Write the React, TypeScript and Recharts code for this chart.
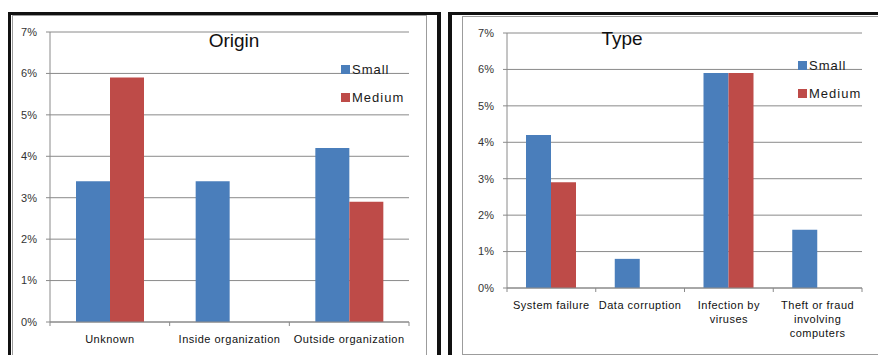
import { BarChart, Bar, XAxis, YAxis, CartesianGrid, Legend } from "recharts";

// origin of incidents
const originCategories = ["Unknown", "Inside organization", "Outside organization"];
const originSmall = [3.4, 3.4, 4.2];
const originMedium = [5.9, null, 2.9];

// type of incidents (\n marks where the tick label wraps)
const typeCategories = [
  "System failure",
  "Data corruption",
  "Infection by\nviruses",
  "Theft or fraud\ninvolving\ncomputers",
];
const typeSmall = [4.2, 0.8, 5.9, 1.6];
const typeMedium = [2.9, null, 5.9, null];

const seriesNames = ["Small", "Medium"];
const percentTicks = [0, 1, 2, 3, 4, 5, 6, 7];

const BLUE = "#4a7ebb";
const RED = "#be4b48";
const AXIS = "#8a8a8a";
const FONT = '"Liberation Sans", Arial, sans-serif';

type Box = { left: number; top: number; width: number; height: number };

type PanelProps = {
  title: string;
  categories: string[];
  small: (number | null)[];
  medium: (number | null)[];
  box: Box;
  marginTop: number;
  marginRight: number;
  yWidth: number;
  xHeight: number;
  categoryGap: number;
  legendAt: { x: number; y: number };
  titleAt: { x: number; y: number };
};

function LegendBox({ payload }: any) {
  // keep series order instead of the alphabetical default
  const items = [...(payload || [])].sort(
    (a: any, b: any) => seriesNames.indexOf(a.value) - seriesNames.indexOf(b.value)
  );
  return (
    <div style={{ fontFamily: FONT }}>
      {items.map((entry: any) => (
        <div
          key={entry.value}
          style={{ display: "flex", alignItems: "center", height: 28 }}
        >
          <span
            style={{
              display: "inline-block",
              width: 9,
              height: 9,
              background: entry.color,
            }}
          />
          <span
            style={{
              marginLeft: 2,
              fontSize: 13,
              letterSpacing: 1,
              color: "#1a1a1a",
            }}
          >
            {entry.value}
          </span>
        </div>
      ))}
    </div>
  );
}

function Panel(p: PanelProps) {
  const data = p.categories.map((name, i) => ({
    name,
    small: p.small[i],
    medium: p.medium[i],
  }));
  const plotWidth = p.box.width - p.yWidth - p.marginRight;
  const band = plotWidth / p.categories.length;

  // Excel-style category ticks sit between categories, not under them
  const renderTick = (props: any) => {
    const { x, y, payload, index } = props;
    const lines = String(payload.value).split("\n");
    const last = index === p.categories.length - 1;
    return (
      <g>
        <line x1={x - band / 2} y1={y} x2={x - band / 2} y2={y + 4} stroke={AXIS} />
        {last && (
          <line x1={x + band / 2} y1={y} x2={x + band / 2} y2={y + 4} stroke={AXIS} />
        )}
        <text
          x={x}
          y={y + 21}
          textAnchor="middle"
          fontSize={11}
          letterSpacing={0.5}
          fontFamily={FONT}
          fill="#111"
        >
          {lines.map((line, i) => (
            <tspan key={i} x={x} dy={i === 0 ? 0 : 14}>
              {line}
            </tspan>
          ))}
        </text>
      </g>
    );
  };

  return (
    <div
      style={{
        position: "absolute",
        left: p.box.left,
        top: p.box.top,
        width: p.box.width,
        height: p.box.height,
      }}
    >
      <BarChart
        width={p.box.width}
        height={p.box.height}
        data={data}
        margin={{ top: p.marginTop, right: p.marginRight, left: 0, bottom: 0 }}
        barCategoryGap={p.categoryGap}
        barGap={0}
      >
        <CartesianGrid vertical={false} stroke={AXIS} strokeWidth={1} />
        <XAxis
          dataKey="name"
          interval={0}
          height={p.xHeight}
          tickSize={0}
          tickMargin={0}
          stroke={AXIS}
          tick={renderTick}
        />
        <YAxis
          width={p.yWidth}
          domain={[0, 7]}
          ticks={percentTicks}
          tickFormatter={(v: number) => `${v}%`}
          tickSize={4}
          tickMargin={9}
          stroke={AXIS}
          tick={{ fontSize: 11, fill: "#333", fontFamily: FONT }}
        />
        <Legend
          layout="vertical"
          align="center"
          verticalAlign="middle"
          content={LegendBox}
          wrapperStyle={{ left: p.legendAt.x, top: p.legendAt.y, width: 90 }}
        />
        <Bar dataKey="small" name="Small" fill={BLUE} isAnimationActive={false} />
        <Bar dataKey="medium" name="Medium" fill={RED} isAnimationActive={false} />
      </BarChart>
      <div
        style={{
          position: "absolute",
          left: p.titleAt.x - 60,
          top: p.titleAt.y,
          width: 120,
          textAlign: "center",
          fontFamily: FONT,
          fontSize: 19,
          lineHeight: "20px",
          color: "#111",
        }}
      >
        {p.title}
      </div>
    </div>
  );
}

export default function App() {
  return (
    <div
      style={{
        position: "relative",
        width: 886,
        height: 363,
        margin: -8,
        background: "#fff",
        overflow: "hidden",
      }}
    >
      {/* outer frames */}
      <div
        style={{
          position: "absolute",
          left: 7,
          top: 12,
          width: 434,
          height: 400,
          boxSizing: "border-box",
          borderTop: "3px solid #111",
          borderLeft: "4px solid #111",
          borderRight: "4px solid #111",
        }}
      />
      <div
        style={{
          position: "absolute",
          left: 448,
          top: 12,
          width: 500,
          height: 400,
          boxSizing: "border-box",
          borderTop: "3px solid #111",
          borderLeft: "4px solid #111",
        }}
      />
      {/* chart area borders */}
      <div
        style={{
          position: "absolute",
          left: 12,
          top: 15,
          width: 415,
          height: 341,
          boxSizing: "border-box",
          border: "1px solid #9c9c9c",
        }}
      />
      <div
        style={{
          position: "absolute",
          left: 462,
          top: 16,
          width: 420,
          height: 339,
          boxSizing: "border-box",
          border: "1px solid #9c9c9c",
        }}
      />

      <Panel
        title="Origin"
        categories={originCategories}
        small={originSmall}
        medium={originMedium}
        box={{ left: 12, top: 15, width: 415, height: 341 }}
        marginTop={17}
        marginRight={18}
        yWidth={38}
        xHeight={34}
        categoryGap={26}
        legendAt={{ x: 329, y: 40 }}
        titleAt={{ x: 222, y: 16 }}
      />
      <Panel
        title="Type"
        categories={typeCategories}
        small={typeSmall}
        medium={typeMedium}
        box={{ left: 462, top: 16, width: 420, height: 338 }}
        marginTop={17}
        marginRight={20}
        yWidth={45}
        xHeight={66}
        categoryGap={19}
        legendAt={{ x: 336, y: 35 }}
        titleAt={{ x: 160, y: 13 }}
      />
    </div>
  );
}
